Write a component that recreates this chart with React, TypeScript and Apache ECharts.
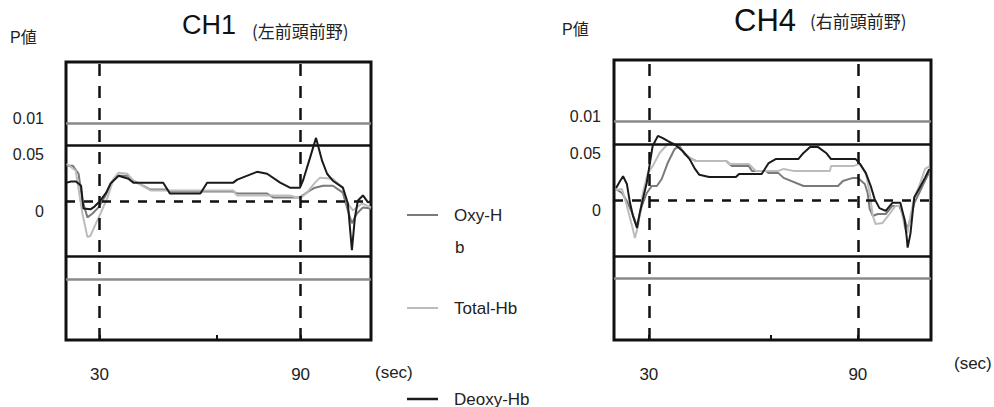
import React, { useEffect, useRef } from 'react';
import * as echarts from 'echarts';

// ---------- data ----------
const seriesNames = ['Oxy-Hb', 'Total-Hb', 'Deoxy-Hb'];
const panelTitles = ['CH1', 'CH4'];
const panelSubtitles = ['(左前頭前野)', '(右前頭前野)'];
const yAxisTitle = 'P値';
const xUnit = '(sec)';

const xTicks = [30, 65, 90];
const xTickLabels = [30, 90];
const stimulusMarks = [30, 90];
const yTickValues = [2.8, 2.0, 0];
const yTickLabels = ['0.01', '0.05', '0'];
const grayThresholds = [2.8, -2.8];
const blackThresholds = [2.0, -2.0];

// CH1 (left prefrontal)
const ch1Oxy = [
  [20.2, 1.27], [22.0, 1.27], [23.75, 0.98], [24.9, 0.02], [26.4, -0.59], [27.9, -0.45], [29.7, -0.23],
  [31.8, 0.2], [33.9, 0.73], [35.4, 0.91], [38.3, 0.91], [40.1, 0.73], [45.2, 0.41], [50.2, 0.41],
  [51.0, 0.34], [69.9, 0.34], [71.0, 0.27], [80.0, 0.27], [81.8, 0.13], [89.8, 0.13], [92.8, 0.38],
  [94.3, 0.48], [96.7, 0.55], [99.6, 0.55], [102.6, 0.3], [104.1, -0.34], [105.3, -0.8], [106.8, -0.45],
  [108.6, -0.23], [111, -0.27],
];
const ch1Total = [
  [20.2, 1.34], [22.9, 1.09], [24.9, -0.45], [26.4, -1.3], [27.3, -1.25], [28.2, -1.0], [30.3, -0.45],
  [32.4, 0.13], [34.2, 0.8], [35.7, 1.02], [38.3, 0.98], [40.1, 0.73], [45.2, 0.38], [69.9, 0.38],
  [71.0, 0.2], [86.8, 0.2], [89.8, 0.09], [91.9, 0.3], [94.3, 0.66], [95.8, 0.84], [99.6, 0.8],
  [102.6, 0.48], [104.1, -0.09], [105.6, -0.34], [108.3, -0.09], [111, -0.23],
];
const ch1Deoxy = [
  [20.2, 0.66], [21.5, 0.7], [23.0, 0.7], [24.5, 0.55], [25.2, -0.27], [27.3, -0.3], [28.5, -0.2],
  [30.3, 0.02], [32.0, 0.3], [33.3, 0.63], [35.7, 0.91], [38.6, 0.8], [40.1, 0.66], [49.0, 0.66],
  [51.0, 0.27], [60.1, 0.27], [62.1, 0.66], [69.9, 0.66], [71.1, 0.77], [77.0, 1.05], [80.0, 0.98],
  [83.9, 0.66], [86.8, 0.48], [89.8, 0.48], [90.7, 0.73], [92.8, 1.55], [94.6, 2.27], [96.4, 1.45],
  [97.9, 0.98], [99.6, 0.73], [102.6, 0.48], [104.1, -0.09], [105.3, -1.77], [106.2, -0.59],
  [107.1, 0.02], [108.6, 0.2], [110.1, -0.05], [111, 0.0],
];

// CH4 (right prefrontal)
const ch4Oxy = [
  [20.6, 0.39], [22.3, 0.25], [23.7, -0.04], [25.2, -0.46], [26.6, -0.93], [28.0, -0.21], [29.4, 0.25],
  [30.85, 0.5], [32.3, 0.5], [33.7, 0.75], [35.4, 1.32], [37.4, 1.82], [38.8, 1.93], [40.2, 1.64],
  [41.7, 1.5], [43.6, 1.39], [52.2, 1.39], [53.9, 1.21], [58.7, 1.21], [59.6, 1.04], [63.6, 1.04],
  [64.4, 0.96], [67.2, 0.96], [68.7, 0.79], [74.4, 0.5], [84.3, 0.5], [85.7, 0.68], [88.6, 0.79],
  [90.0, 0.79], [92.0, 0.57], [92.8, 0.25], [93.4, -0.32], [94.3, -0.57], [95.7, -0.5], [98.0, -0.5],
  [99.9, -0.21], [101.9, -0.21], [103.4, -0.68], [104.2, -1.04], [105.1, -0.68], [106.2, -0.11],
  [107.6, 0.25], [109.0, 0.61], [110.5, 1.0],
];
const ch4Total = [
  [20.6, 0.36], [22.3, 0.39], [23.7, -0.21], [25.2, -0.93], [26.0, -1.36], [26.9, -0.93], [28.3, 0.25],
  [29.7, 0.96], [31.1, 1.21], [33.1, 1.68], [35.4, 2.0], [36.8, 2.04], [38.2, 1.93], [40.2, 1.68],
  [42.2, 1.46], [43.6, 1.39], [52.2, 1.39], [53.0, 1.29], [58.7, 1.29], [60.7, 1.04], [67.2, 1.04],
  [68.7, 1.11], [71.5, 1.04], [82.0, 1.04], [82.3, 1.21], [88.6, 1.21], [90.6, 1.29], [92.3, 0.96],
  [93.4, 0.25], [94.3, -0.57], [95.1, -0.86], [97.1, -0.82], [99.1, -0.5], [100.8, -0.21],
  [102.2, -0.21], [103.4, -0.93], [104.2, -1.18], [105.1, -0.57], [106.2, 0.07], [107.6, 0.5],
  [109.3, 1.11], [110.5, 1.2],
];
const ch4Deoxy = [
  [20.6, 0.43], [21.75, 0.68], [22.6, 0.85], [23.7, 0.57], [24.6, -0.11], [25.45, -0.57], [26.6, -1.0],
  [27.4, -0.46], [28.3, 0.04], [29.4, 0.61], [30.3, 1.32], [31.1, 1.93], [32.6, 2.29], [34.0, 2.21],
  [35.4, 2.11], [38.0, 1.93], [39.7, 1.75], [41.7, 1.46], [43.1, 1.14], [44.5, 0.9], [47.3, 0.82],
  [55.0, 0.82], [55.9, 0.93], [62.4, 0.93], [64.4, 1.32], [66.4, 1.46], [72.9, 1.46], [74.4, 1.68],
  [76.3, 1.89], [78.6, 1.89], [80.9, 1.68], [82.3, 1.46], [89.4, 1.46], [90.6, 1.29], [92.3, 0.96],
  [93.7, 0.5], [94.8, 0.04], [96.2, -0.29], [98.0, -0.39], [99.9, -0.1], [102.2, -0.1], [103.4, -0.7],
  [104.0, -1.3], [104.3, -1.7], [105.1, -1.2], [106.2, 0.1], [107.6, 0.4], [109.3, 0.8], [110.5, 1.1],
];

const panelData = [
  [ch1Oxy, ch1Total, ch1Deoxy],
  [ch4Oxy, ch4Total, ch4Deoxy],
];

// ---------- layout / styles ----------
const FONT = '"Liberation Sans", Arial, "Noto Sans CJK JP", sans-serif';
const CJK = '"Noto Sans CJK JP", "Liberation Sans", sans-serif';
const seriesColors = ['#7a7a7a', '#bcbcbc', '#1a1a1a'];
const panels = [
  {
    left: 66, top: 62, width: 305, height: 278, labelGap: 22,
    title: { x: 209, y: 25, size: 27 }, sub: { x: 252, y: 30 },
    pv: { x: 10, y: 37 }, unit: { x: 375, y: 372 },
  },
  {
    left: 614, top: 60, width: 317, height: 280, labelGap: 13,
    title: { x: 765, y: 20, size: 31 }, sub: { x: 810, y: 20 },
    pv: { x: 562, y: 29 }, unit: { x: 954, y: 363 },
  },
];
const yLabelShift = [-5, 9, 10];
const legendLayout = { x1: 407, x2: 438, textX: 454, ys: [215, 308, 399] };

function buildOption() {
  const grids = panels.map((p) => ({
    left: p.left, top: p.top, width: p.width, height: p.height,
    show: true, borderColor: '#111', borderWidth: 3, backgroundColor: 'transparent',
  }));
  const xAxes = panels.map((_, i) => ({
    type: 'value', gridIndex: i, min: 20, max: 111, position: 'bottom',
    axisLine: { show: false, onZero: false },
    axisTick: { show: true, inside: true, length: 5, customValues: xTicks, lineStyle: { color: '#111', width: 2 } },
    axisLabel: { customValues: xTickLabels, margin: 26, fontSize: 17, fontFamily: FONT, color: '#222' },
    splitLine: { show: false },
  }));
  const yAxes = panels.map((_, i) => ({
    type: 'value', gridIndex: i, min: -5, max: 5,
    axisLine: { show: false, onZero: false }, axisTick: { show: false }, axisLabel: { show: false }, splitLine: { show: false },
  }));
  const dashH = { color: '#111', width: 2.5, type: [9, 9] };
  const dashV = { color: '#111', width: 2.5, type: [12, 10] };
  const series: any[] = [];
  panelData.forEach((lines, i) => {
    const order = [1, 0, 2];
    order.forEach((k) => {
      const s: any = {
        name: seriesNames[k], type: 'line', xAxisIndex: i, yAxisIndex: i,
        data: lines[k], showSymbol: false, symbol: 'none',
        lineStyle: { color: seriesColors[k], width: 2 },
        itemStyle: { color: seriesColors[k] },
        z: 3 + k,
      };
      if (k === 1) {
        s.markLine = {
          silent: true, symbol: ['none', 'none'], label: { show: false },
          data: [
            ...grayThresholds.map((v) => ({ yAxis: v, lineStyle: { color: '#8a8a8a', width: 2.5, type: 'solid' } })),
            ...blackThresholds.map((v) => ({ yAxis: v, lineStyle: { color: '#111', width: 2.5, type: 'solid' } })),
            { yAxis: 0, lineStyle: dashH },
            ...stimulusMarks.map((v) => ({ xAxis: v, lineStyle: dashV })),
          ],
        };
      }
      series.push(s);
    });
  });
  return {
    animation: false,
    backgroundColor: '#ffffff',
    grid: grids, xAxis: xAxes, yAxis: yAxes, series,
  };
}

export default function App() {
  const ref = useRef<HTMLDivElement>(null);
  useEffect(() => {
    const el = ref.current;
    if (!el) return;
    const chart = echarts.init(el, null, { renderer: 'svg' });
    chart.setOption(buildOption());
    const g: any[] = [];
    const txt = (text: string, x: number, y: number, size: number, align: string, family = FONT, color = '#222') => ({
      type: 'text', x, y, silent: true,
      style: {
        text, fill: color, font: `${size}px ${family}`,
        align, verticalAlign: 'middle', textAlign: align, textVerticalAlign: 'middle',
      },
    });
    panels.forEach((p, i) => {
      yTickValues.forEach((v, k) => {
        const py = chart.convertToPixel({ yAxisIndex: i } as any, v) as unknown as number;
        g.push(txt(yTickLabels[k], p.left - p.labelGap, py + yLabelShift[k], 16, 'right'));
      });
      g.push(txt(panelTitles[i], p.title.x, p.title.y, p.title.size, 'center', FONT, '#111'));
      g.push(txt(panelSubtitles[i], p.sub.x, p.sub.y, 17, 'left', CJK, '#222'));
      g.push(txt(yAxisTitle, p.pv.x, p.pv.y, 16, 'left', FONT, '#222'));
      g.push(txt(xUnit, p.unit.x, p.unit.y, 17, 'left', FONT, '#222'));
    });
    // legend
    const legendText = ['Oxy-H', 'Total-Hb', 'Deoxy-Hb'];
    legendLayout.ys.forEach((y, k) => {
      g.push({
        type: 'line', silent: true,
        shape: { x1: legendLayout.x1, y1: y, x2: legendLayout.x2, y2: y },
        style: { stroke: seriesColors[k], lineWidth: k === 2 ? 2.5 : 2 },
      });
      g.push(txt(legendText[k], legendLayout.textX, y, 17, 'left'));
    });
    g.push(txt(seriesNames[0].slice(5), legendLayout.textX + 1, 247, 17, 'left'));
    chart.setOption({ graphic: g });
    return () => chart.dispose();
  }, []);
  return <div ref={ref} style={{ position: 'fixed', left: 0, top: 0, width: 994, height: 407 }} />;
}
